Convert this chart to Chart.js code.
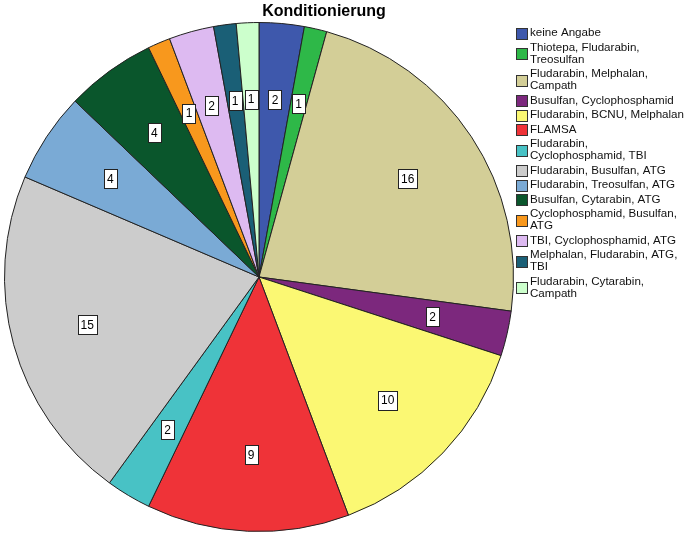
<!DOCTYPE html>
<html><head><meta charset="utf-8">
<script src="https://cdn.jsdelivr.net/npm/chart.js@4/dist/chart.umd.min.js"></script>
<style>html,body{margin:0;padding:0;background:#fff;}#wrap{width:685px;height:534px;position:relative;}</style>
</head><body><div id="wrap"><canvas id="c" width="685" height="534"></canvas></div>
<script>
const titleText = "Konditionierung";
const categories = [
  ["keine Angabe"],
  ["Thiotepa, Fludarabin,", "Treosulfan"],
  ["Fludarabin, Melphalan,", "Campath"],
  ["Busulfan, Cyclophosphamid"],
  ["Fludarabin, BCNU, Melphalan"],
  ["FLAMSA"],
  ["Fludarabin,", "Cyclophosphamid, TBI"],
  ["Fludarabin, Busulfan, ATG"],
  ["Fludarabin, Treosulfan, ATG"],
  ["Busulfan, Cytarabin, ATG"],
  ["Cyclophosphamid, Busulfan,", "ATG"],
  ["TBI, Cyclophosphamid, ATG"],
  ["Melphalan, Fludarabin, ATG,", "TBI"],
  ["Fludarabin, Cytarabin,", "Campath"]
];
const counts = [2, 1, 16, 2, 10, 9, 2, 15, 4, 4, 1, 2, 1, 1];
const colors = ["#3E58AC","#2EB848","#D3CE97","#7C287D","#FBF873","#EF3338","#48C2C5","#CCCCCC","#7AAAD5","#0A562C","#F8981D","#DDBAF1","#1A5F76","#CCFFCC"];

const FONT = '"Liberation Sans", Arial, sans-serif';

const labelPlugin = {
  id: 'sliceLabels',
  afterDatasetsDraw(chart) {
    const ctx = chart.ctx;
    const meta = chart.getDatasetMeta(0);
    ctx.save();
    ctx.font = '12px ' + FONT;
    ctx.textAlign = 'center';
    ctx.textBaseline = 'middle';
    meta.data.forEach((arc, i) => {
      const p = arc.getProps(['x','y','startAngle','endAngle','outerRadius'], true);
      const mid = (p.startAngle + p.endAngle) / 2;
      const r = p.outerRadius * 0.7;
      const x = p.x + Math.cos(mid) * r;
      const y = p.y + Math.sin(mid) * r;
      const t = String(chart.data.datasets[0].data[i]);
      const w = Math.round(ctx.measureText(t).width + 6);
      const h = 19;
      const bx = Math.round(x - w/2) + 0.5, by = Math.round(y - h/2) + 0.5;
      ctx.fillStyle = '#fff';
      ctx.fillRect(bx, by, w, h);
      ctx.strokeStyle = '#222';
      ctx.lineWidth = 1;
      ctx.strokeRect(bx, by, w, h);
      ctx.fillStyle = '#000';
      ctx.fillText(t, x, y + 1);
    });
    ctx.restore();
  }
};

const legendPlugin = {
  id: 'customLegend',
  afterDraw(chart) {
    const ctx = chart.ctx;
    const labels = chart.data.labels;
    const bg = chart.data.datasets[0].backgroundColor;
    ctx.save();
    // title
    ctx.font = 'bold 16px ' + FONT;
    ctx.textAlign = 'center';
    ctx.textBaseline = 'middle';
    ctx.fillStyle = '#000';
    ctx.fillText(titleText, 324, 12);
    // legend
    ctx.font = '11.6px ' + FONT;
    ctx.textBaseline = 'middle';
    ctx.textAlign = 'left';
    const lineH = 12, gap = 2.5, sx = 516, tx = 530, sq = 11;
    let top = 27;
    labels.forEach((lines, i) => {
      const n = lines.length;
      const cy = top + n * lineH / 2;
      ctx.fillStyle = bg[i];
      ctx.fillRect(sx + 0.5, Math.round(cy - sq/2) + 0.5, sq, sq);
      ctx.strokeStyle = '#333';
      ctx.lineWidth = 1;
      ctx.strokeRect(sx + 0.5, Math.round(cy - sq/2) + 0.5, sq, sq);
      ctx.fillStyle = '#111';
      lines.forEach((ln, k) => {
        ctx.fillText(ln, tx, top + k * lineH + lineH / 2);
      });
      top += n * lineH + gap;
    });
    ctx.restore();
  }
};

new Chart(document.getElementById('c'), {
  type: 'pie',
  data: {
    labels: categories,
    datasets: [{
      data: counts,
      backgroundColor: colors,
      borderColor: '#222',
      borderWidth: 1,
      hoverOffset: 0,
      offset: 0
    }]
  },
  options: {
    responsive: false,
    devicePixelRatio: 1,
    animation: false,
    layout: { padding: { left: 4, right: 171, top: 22, bottom: 2 } },
    plugins: {
      legend: { display: false },
      tooltip: { enabled: false },
      title: { display: false }
    }
  },
  plugins: [labelPlugin, legendPlugin]
});
</script>
</body></html>
